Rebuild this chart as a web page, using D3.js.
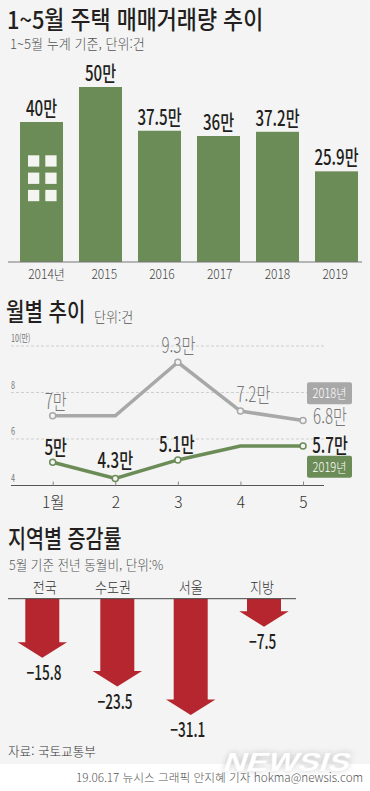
<!DOCTYPE html>
<html lang="ko">
<head>
<meta charset="utf-8">
<script src="https://cdn.jsdelivr.net/npm/d3@7"></script>
<style>
  html, body { margin: 0; padding: 0; background: #fff; }
  svg { display: block; }
  text { font-family: "Noto Sans CJK KR", sans-serif; fill: #231f20; }
</style>
</head>
<body>
<div id="chart"></div>
<script>
const years = ['2014년', '2015', '2016', '2017', '2018', '2019'];
const yearValues = [40, 50, 37.5, 36, 37.2, 25.9];
const yearLabels = ['40만', '50만', '37.5만', '36만', '37.2만', '25.9만'];

const months = ['1월', '2', '3', '4', '5'];
const monthTicks = [4, 6, 8, 10];
const values2018 = [7, 7, 9.3, 7.2, 6.8];
const values2019 = [5, 4.3, 5.1, 5.7, 5.7];
const labels2018 = ['7만', '', '9.3만', '7.2만', '6.8만'];
const labels2019 = ['5만', '4.3만', '5.1만', '', '5.7만'];

const regions = ['전국', '수도권', '서울', '지방'];
const regionValues = [-15.8, -23.5, -31.1, -7.5];
const regionLabels = ['−15.8', '−23.5', '−31.1', '−7.5'];

const green = '#6b8c57';
const gray = '#a8a8a8';
const red = '#b5262e';
const bg = '#f3f4f3';

const svg = d3.select('#chart').append('svg')
    .attr('width', 370)
    .attr('height', 791);

svg.append('rect').attr('width', 370).attr('height', 764).attr('fill', bg);

// text helper, sx squeezes the glyphs like the condensed face in the original
function label(x, y, str, size, opts = {}) {
    const sx = opts.sx || 1;
    return svg.append('text')
        .attr('transform', `translate(${x},${y}) scale(${sx},1)`)
        .attr('text-anchor', opts.anchor || 'start')
        .style('font-size', size + 'px')
        .style('font-weight', opts.weight || 400)
        .style('fill', opts.fill || '#231f20')
        .text(str);
}

// ---- yearly bars
label(7, 29, '1~5월 주택 매매거래량 추이', 24.5, {weight: 500, sx: 0.89});
label(10, 49, '1~5월 누계 기준, 단위:건', 13.5, {fill: '#555', sx: 0.97, weight: 300});

const barX = d3.scaleBand().domain(years).range([12, 366]).paddingInner(0.271).paddingOuter(0.1355);
const barY = d3.scaleLinear().domain([0, 50]).range([262, 87]);
// the year labels sit on a slightly tighter spacing than the bars
const yearTickX = d3.scalePoint().domain(years).range([46, 334.7]);

svg.selectAll('.bar')
    .data(yearValues)
    .enter().append('rect')
    .attr('class', 'bar')
    .attr('x', (d, i) => barX(years[i]))
    .attr('y', d => barY(d))
    .attr('width', barX.bandwidth())
    .attr('height', d => barY(0) - barY(d))
    .attr('fill', green);

// windows on the first bar
[0, 1].forEach(c => [0, 1, 2].forEach(r => {
    svg.append('rect')
        .attr('x', barX(years[0]) + 8 + c * 17.3)
        .attr('y', barY(40) + 33.3 + r * 17.3)
        .attr('width', 11.3)
        .attr('height', 11.3)
        .attr('fill', '#f4f4f0');
}));

yearLabels.forEach((d, i) => {
    label(barX(years[i]) + barX.bandwidth() / 2, barY(yearValues[i]) - 6, d, 21,
        {anchor: 'middle', weight: 500, sx: 0.72});
});

const barAxis = svg.append('g')
    .attr('transform', 'translate(0,262)')
    .call(d3.axisBottom(yearTickX).tickSize(0).tickPadding(5));
barAxis.select('.domain').attr('d', 'M8,0H362').attr('stroke', '#777').attr('stroke-width', 1.2);
barAxis.selectAll('text')
    .style('font-family', '"Noto Sans CJK KR", sans-serif')
    .style('font-size', '13px')
    .style('font-weight', 300)
    .style('fill', '#444')
    .attr('transform', 'scale(0.92,1)');
barAxis.selectAll('.tick text')
    .attr('dy', '0.95em');

// ---- monthly lines
label(6, 321, '월별 추이', 24.5, {weight: 500, sx: 0.82});
label(94, 322, '단위:건', 13.5, {fill: '#555', sx: 0.97, weight: 300});

const lineX = d3.scalePoint().domain(months).range([52.7, 303]);
const lineY = d3.scaleLinear().domain([4, 10]).range([485.5, 346]);

monthTicks.forEach(t => {
    if (t > 4) {
        svg.append('line')
            .attr('x1', 11).attr('x2', 324)
            .attr('y1', lineY(t)).attr('y2', lineY(t))
            .attr('stroke', '#cfcfcf')
            .attr('stroke-dasharray', '3,2');
    }
    label(11, lineY(t) - 4, t === 10 ? '10(만)' : String(t), 10, {fill: '#777', sx: 0.72});
});

const lineAxis = svg.append('g')
    .attr('transform', 'translate(0,485.5)')
    .call(d3.axisBottom(lineX).tickSize(5).tickPadding(6));
lineAxis.select('.domain').attr('d', 'M11,0H324').attr('stroke', '#555');
lineAxis.selectAll('line').attr('stroke', '#888').attr('y1', -4).attr('y2', 0);
lineAxis.selectAll('text')
    .style('font-family', '"Noto Sans CJK KR", sans-serif')
    .style('font-size', '15.5px')
    .style('font-weight', 300)
    .style('fill', '#333');

const line = d3.line().x((d, i) => lineX(months[i])).y(d => lineY(d));

[[values2018, gray], [values2019, green]].forEach(([vals, color]) => {
    svg.append('path')
        .attr('d', line(vals))
        .attr('fill', 'none')
        .attr('stroke', color)
        .attr('stroke-width', 3.5);
    vals.forEach((v, i) => {
        if (i === 1 && vals === values2018) return;
        if (i === 3 && vals === values2019) return;
        svg.append('circle')
            .attr('cx', lineX(months[i]))
            .attr('cy', lineY(v))
            .attr('r', 3)
            .attr('fill', bg)
            .attr('stroke', color)
            .attr('stroke-width', 1.5);
    });
});

// label offsets from their points, [dx, dy]
const nudge2018 = [[3, -7], null, [0.5, -9], [13, -9], [27, 4]];
const nudge2019 = [[3, -7], [0, -11], [-1, -8], null, [27, 7]];

labels2018.forEach((d, i) => {
    if (!d) return;
    label(lineX(months[i]) + nudge2018[i][0], lineY(values2018[i]) + nudge2018[i][1], d, 21,
        {anchor: 'middle', fill: '#777', sx: 0.72, weight: 300});
});
labels2019.forEach((d, i) => {
    if (!d) return;
    label(lineX(months[i]) + nudge2019[i][0], lineY(values2019[i]) + nudge2019[i][1], d, 21,
        {anchor: 'middle', weight: 500, sx: 0.72});
});

// series tags
[['2018년', gray, 382.3], ['2019년', green, 455.7]].forEach(([t, color, y]) => {
    svg.append('rect')
        .attr('x', 307).attr('y', y)
        .attr('width', 45).attr('height', 22)
        .attr('rx', 2)
        .attr('fill', color);
    label(329.5, y + 16, t, 13, {anchor: 'middle', fill: '#fff', sx: 0.85, weight: 300});
});

// ---- regional arrows
label(8, 548, '지역별 증감률', 24.5, {weight: 500, sx: 0.8});
label(9, 570, '5월 기준 전년 동월비, 단위:%', 13.2, {fill: '#555', sx: 0.955, weight: 300});

const arrowX = d3.scaleOrdinal().domain(regions).range([42.3, 117.3, 190.7, 264]);
const regionTextX = d3.scaleOrdinal().domain(regions).range([44.7, 113, 190.7, 262]);
const valueTextX = d3.scaleOrdinal().domain(regions).range([44, 115, 187.7, 262.7]);
const arrowY = d3.scaleLinear().domain([0, -31.1]).range([598.7, 715]);

function arrowPath(cx, v) {
    const tip = arrowY(v);
    const p = d3.path();
    p.moveTo(cx - 17, arrowY(0));
    p.lineTo(cx + 17, arrowY(0));
    p.lineTo(cx + 17, tip - 15.5);
    p.lineTo(cx + 24.7, tip - 15.5);
    p.lineTo(cx, tip);
    p.lineTo(cx - 24.7, tip - 15.5);
    p.lineTo(cx - 17, tip - 15.5);
    p.closePath();
    return p.toString();
}

svg.selectAll('.arrow')
    .data(regionValues)
    .enter().append('path')
    .attr('class', 'arrow')
    .attr('d', (d, i) => arrowPath(arrowX(regions[i]), d))
    .attr('fill', red);

svg.append('line')
    .attr('x1', 8).attr('x2', 296)
    .attr('y1', arrowY(0)).attr('y2', arrowY(0))
    .attr('stroke', '#444')
    .attr('stroke-width', 1);

regions.forEach((r, i) => {
    label(regionTextX(r), 593, r, 15, {anchor: 'middle', fill: '#333', sx: 0.87, weight: 300});
    label(valueTextX(r), arrowY(regionValues[i]) + 22, regionLabels[i], 20,
        {anchor: 'middle', weight: 500, sx: 0.68});
});

label(8, 756, '자료: 국토교통부', 13, {fill: '#333', sx: 0.97, weight: 300});

// ---- footer
svg.append('text')
    .attr('transform', 'translate(222,771) skewX(-18)')
    .style('font-family', '"Liberation Sans", sans-serif')
    .style('font-size', '27px')
    .style('font-weight', 700)
    .style('fill', '#fff')
    .style('filter', 'drop-shadow(0 0 3px rgba(0,0,0,0.22))')
    .attr('textLength', 126)
    .attr('lengthAdjust', 'spacingAndGlyphs')
    .text('NEWSIS');

label(76, 782, '19.06.17 뉴시스 그래픽 안지혜 기자 hokma@newsis.com', 11.8, {fill: '#555', sx: 0.99, weight: 300});
</script>
</body>
</html>
